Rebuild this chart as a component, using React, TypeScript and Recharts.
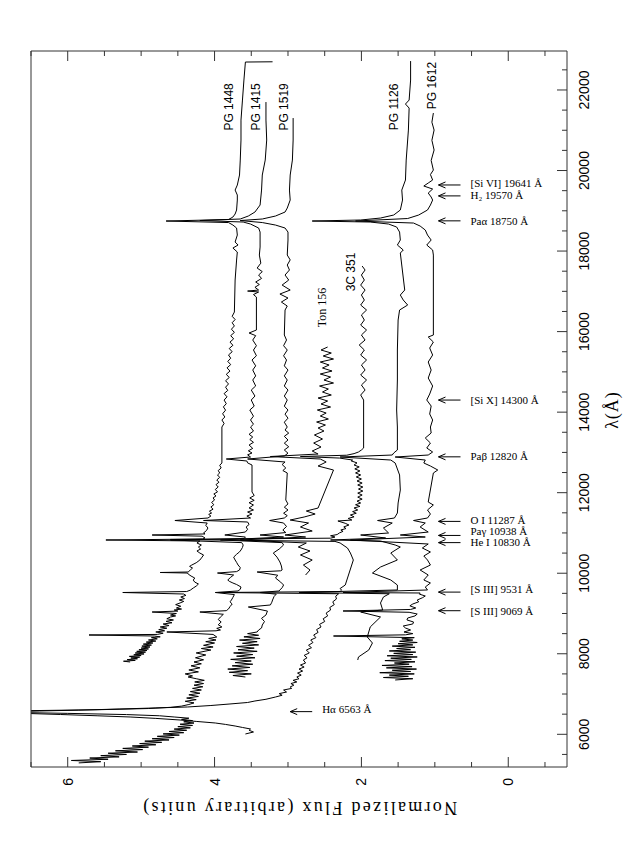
import React from 'react';
import { LineChart, Line, XAxis, YAxis, ReferenceDot } from 'recharts';

// wavelength (Angstrom) and normalized flux ranges of the frame
const waveDomain = [5188, 22968];
const fluxDomain = [-0.8, 6.5];
const waveTicks = [6000, 8000, 10000, 12000, 14000, 16000, 18000, 20000, 22000];
const waveMinor = [5500, 6000, 6500, 7000, 7500, 8000, 8500, 9000, 9500, 10000, 10500, 11000, 11500, 12000, 12500, 13000, 13500, 14000, 14500, 15000, 15500, 16000, 16500, 17000, 17500, 18000, 18500, 19000, 19500, 20000, 20500, 21000, 21500, 22000, 22500];
const fluxTicks = [0, 2, 4, 6];
const fluxMinor = [-0.5, 0, 0.5, 1, 1.5, 2, 2.5, 3, 3.5, 4, 4.5, 5, 5.5, 6, 6.5];

// [wavelength, flux]
const pg1448 = [[7796,5.15],[7815,5.24],[7835,5.08],[7855,5.19],[7875,5.05],[7895,5.14],[7915,5.02],[7935,5.16],[7955,5.00],[7975,5.10],[7995,4.96],[8019,5.08],[8040,4.94],[8060,5.06],[8080,4.92],[8100,5.03],[8120,4.90],[8140,5.00],[8168,4.88],[8190,4.99],[8215,4.86],[8240,4.97],[8267,4.84],[8290,4.93],[8315,4.80],[8342,4.90],[8370,4.78],[8400,4.86],[8420,4.74],[8441,4.82],[8466,5.71],[8480,4.78],[8510,4.70],[8541,4.80],[8570,4.68],[8600,4.76],[8635,4.65],[8665,4.74],[8700,4.62],[8739,4.70],[8770,4.58],[8805,4.66],[8838,4.56],[8870,4.65],[8913,4.60],[8940,4.53],[8962,4.60],[9000,4.52],[9037,4.85],[9060,4.50],[9086,4.55],[9110,4.45],[9136,4.52],[9180,4.46],[9220,4.53],[9261,4.47],[9300,4.42],[9335,4.48],[9370,4.41],[9410,4.46],[9450,4.39],[9484,4.42],[9521,5.25],[9545,4.38],[9580,4.33],[9633,4.29],[9680,4.25],[9732,4.22],[9780,4.27],[9830,4.29],[9881,4.27],[9930,4.32],[9980,4.36],[10005,4.37],[10018,4.74],[10030,4.36],[10080,4.33],[10129,4.30],[10170,4.34],[10204,4.31],[10260,4.25],[10328,4.20],[10400,4.17],[10453,4.15],[10500,4.20],[10552,4.24],[10600,4.19],[10651,4.22],[10700,4.18],[10751,4.24],[10800,4.20],[10825,5.48],[10850,4.16],[10875,4.13],[10920,4.17],[10949,4.85],[10975,4.13],[10999,4.15],[11060,4.11],[11123,4.09],[11190,4.12],[11247,4.10],[11309,4.54],[11371,4.09],[11420,4.05],[11460,4.08],[11495,4.04],[11540,4.07],[11590,4.02],[11644,4.05],[11700,4.01],[11760,4.04],[11818,4.00],[11870,4.02],[11920,3.98],[11967,4.01],[12020,3.96],[12080,3.99],[12141,3.95],[12200,3.98],[12260,3.94],[12315,3.97],[12380,3.93],[12440,3.96],[12489,3.93],[12550,3.95],[12613,3.91],[12680,3.93],[12737,3.90],[13631,3.90],[13720,3.87],[13805,3.90],[13880,3.86],[13960,3.89],[14050,3.85],[14130,3.88],[14210,3.84],[14300,3.87],[14380,3.83],[14460,3.87],[14540,3.82],[14620,3.85],[14700,3.81],[14780,3.85],[14860,3.80],[14940,3.84],[15020,3.79],[15100,3.83],[15180,3.78],[15260,3.82],[15340,3.78],[15420,3.81],[15500,3.76],[15580,3.80],[15660,3.75],[15740,3.79],[15820,3.74],[15900,3.78],[15980,3.73],[16060,3.77],[16140,3.73],[16220,3.76],[16300,3.72],[16380,3.76],[16486,3.73],[17281,3.72],[17777,3.70],[17976,3.69],[18075,3.75],[18150,3.68],[18224,3.72],[18398,3.69],[18572,3.70],[18646,3.75],[18708,3.81],[18746,4.66],[18783,3.81],[18845,3.75],[18920,3.72],[19019,3.70],[19267,3.69],[19391,3.69],[19515,3.72],[19639,3.69],[19888,3.66],[20260,3.65],[20757,3.64],[21253,3.64],[21750,3.62],[22247,3.60],[22694,3.58],[22700,3.21]];

const pg1415 = [[5290,5.85],[5320,5.55],[5350,5.95],[5380,5.45],[5410,5.70],[5440,5.30],[5470,5.55],[5500,5.20],[5530,5.45],[5560,5.05],[5590,5.35],[5620,4.98],[5650,5.25],[5680,4.90],[5710,5.12],[5740,4.80],[5770,5.02],[5800,4.72],[5830,4.95],[5860,4.62],[5890,4.85],[5920,4.55],[5950,4.78],[5980,4.48],[6010,4.70],[6040,4.42],[6070,4.62],[6100,4.38],[6130,4.55],[6160,4.33],[6190,4.50],[6220,4.30],[6250,4.47],[6280,4.28],[6310,4.42],[6340,4.30],[6370,4.45],[6400,4.35],[6430,4.55],[6460,4.75],[6490,5.20],[6520,6.00],[6545,6.80],[6580,6.80],[6610,5.60],[6640,4.90],[6670,4.60],[6700,4.45],[6740,4.35],[6780,4.28],[6820,4.40],[6860,4.25],[6900,4.38],[6940,4.22],[6980,4.35],[7020,4.20],[7060,4.33],[7100,4.18],[7140,4.30],[7180,4.16],[7220,4.28],[7260,4.15],[7300,4.27],[7340,4.14],[7380,4.25],[7423,4.36],[7450,4.30],[7500,4.40],[7550,4.22],[7597,4.35],[7650,4.20],[7700,4.32],[7750,4.18],[7796,4.28],[7850,4.15],[7900,4.26],[7970,4.12],[8020,4.25],[8093,4.05],[8130,4.18],[8168,4.02],[8210,4.15],[8267,4.00],[8300,4.12],[8342,3.98],[8380,4.08],[8416,3.97],[8480,4.02],[8541,4.65],[8570,3.98],[8590,3.92],[8630,3.97],[8665,3.90],[8720,3.95],[8789,3.91],[8850,3.95],[8913,3.92],[8980,3.88],[9037,4.20],[9070,3.84],[9112,3.81],[9170,3.79],[9236,3.76],[9290,3.79],[9335,3.77],[9400,3.75],[9470,3.73],[9521,3.99],[9560,3.68],[9600,3.65],[9658,3.64],[9720,3.70],[9757,3.75],[9800,3.80],[9832,3.82],[9900,3.78],[9956,3.74],[10005,3.96],[10040,3.70],[10080,3.66],[10140,3.65],[10204,3.68],[10270,3.70],[10328,3.72],[10400,3.74],[10470,3.70],[10530,3.66],[10577,3.64],[10640,3.62],[10701,3.61],[10760,3.63],[10825,4.60],[10860,3.60],[10899,3.58],[10949,3.86],[11023,3.58],[11090,3.55],[11148,3.57],[11210,3.53],[11272,3.55],[11309,4.15],[11371,3.51],[11420,3.56],[11470,3.49],[11520,3.55],[11570,3.47],[11620,3.53],[11694,3.47],[11750,3.53],[11810,3.46],[11868,3.52],[11930,3.46],[12017,3.49],[12687,3.49],[12740,3.55],[12787,3.56],[12836,3.84],[12886,3.51],[12940,3.55],[12985,3.49],[13040,3.54],[13100,3.48],[13184,3.53],[13250,3.47],[13320,3.52],[13382,3.48],[13450,3.53],[13530,3.47],[13631,3.51],[13700,3.47],[13805,3.51],[13900,3.47],[14053,3.52],[14150,3.46],[14301,3.50],[14400,3.45],[14549,3.50],[14650,3.44],[14798,3.48],[14900,3.44],[15046,3.48],[15150,3.44],[15295,3.49],[15400,3.43],[15543,3.47],[15650,3.43],[15791,3.48],[15900,3.44],[15965,3.53],[16039,3.43],[16858,3.43],[16920,3.47],[16983,3.40],[17007,3.55],[17032,3.40],[17100,3.45],[17170,3.39],[17231,3.44],[17320,3.36],[17405,3.40],[17490,3.35],[17578,3.42],[17700,3.37],[17901,3.39],[18100,3.38],[18274,3.38],[18472,3.38],[18572,3.40],[18671,3.51],[18721,3.61],[18758,4.20],[18796,3.65],[18870,3.54],[18969,3.45],[19143,3.38],[19515,3.36],[19888,3.35],[20260,3.31],[20757,3.29],[21253,3.30],[21700,3.30]];

const pg1519 = [[7423,3.58],[7460,3.75],[7500,3.50],[7540,3.80],[7580,3.55],[7620,3.82],[7660,3.52],[7700,3.76],[7740,3.48],[7780,3.72],[7820,3.50],[7860,3.78],[7900,3.45],[7940,3.70],[7980,3.48],[8020,3.74],[8060,3.42],[8100,3.68],[8140,3.46],[8180,3.70],[8220,3.40],[8260,3.62],[8300,3.42],[8340,3.66],[8380,3.38],[8420,3.60],[8460,3.40],[8500,3.55],[8541,3.42],[8590,3.40],[8640,3.36],[8714,3.35],[8800,3.32],[8880,3.36],[8962,3.30],[9060,3.28],[9161,3.54],[9211,3.24],[9280,3.22],[9335,3.21],[9420,3.19],[9480,3.16],[9521,3.38],[9560,3.12],[9584,3.11],[9640,3.08],[9707,3.06],[9780,3.10],[9881,3.17],[9950,3.14],[10030,3.42],[10060,3.10],[10080,3.08],[10180,3.09],[10279,3.11],[10400,3.15],[10502,3.20],[10600,3.12],[10701,3.06],[10760,3.08],[10825,3.92],[10899,3.06],[10949,3.38],[11010,3.03],[11073,3.07],[11160,3.02],[11247,3.06],[11309,3.25],[11371,3.05],[11430,3.01],[11490,3.06],[11570,3.00],[11640,3.05],[11720,3.00],[11818,3.03],[12489,3.01],[12550,3.07],[12613,3.03],[12700,3.08],[12762,3.04],[12836,3.55],[12911,3.05],[12980,3.00],[13060,3.05],[13140,2.99],[13230,3.05],[13308,3.00],[13400,3.05],[13480,2.99],[13556,3.04],[13631,3.01],[13750,3.05],[13850,3.00],[13950,3.04],[14053,3.00],[14150,3.05],[14301,3.01],[14400,3.05],[14549,3.00],[14650,3.05],[14798,3.01],[14900,3.05],[15046,3.00],[15150,3.05],[15295,3.02],[15400,3.06],[15543,3.01],[15650,3.06],[15791,3.02],[15915,3.05],[16536,3.04],[16635,3.01],[16734,3.09],[16834,3.00],[16933,3.11],[17032,2.97],[17156,3.08],[17280,2.99],[17405,3.04],[17530,2.98],[17653,3.01],[17780,2.97],[17901,3.01],[18274,3.00],[18472,3.00],[18572,3.04],[18646,3.17],[18708,3.35],[18758,3.65],[18796,3.35],[18870,3.17],[18969,3.04],[19068,3.01],[19267,2.97],[19515,2.98],[19888,2.97],[20260,2.94],[20757,2.93],[21303,2.93]];

const ton156 = [[9956,2.76],[10080,2.70],[10204,2.79],[10328,2.67],[10453,2.83],[10552,2.70],[10651,2.86],[10751,2.75],[10825,3.65],[10899,2.76],[10949,3.04],[11048,2.67],[11148,2.83],[11247,2.72],[11321,2.97],[11396,2.78],[11470,2.63],[11545,2.75],[11619,2.59],[12563,2.38],[12662,2.59],[12762,2.48],[12836,2.56],[12898,3.24],[12960,2.59],[13035,2.67],[13134,2.55],[13233,2.65],[13333,2.53],[13432,2.64],[13531,2.51],[13606,2.59],[13680,2.49],[13755,2.61],[13829,2.45],[13904,2.56],[13978,2.48],[14053,2.60],[14127,2.42],[14202,2.55],[14276,2.46],[14351,2.59],[14425,2.41],[14500,2.53],[14574,2.45],[14649,2.57],[14723,2.38],[14798,2.51],[14872,2.42],[14947,2.56],[15021,2.40],[15096,2.53],[15170,2.44],[15245,2.56],[15319,2.38],[15394,2.52],[15468,2.41],[15543,2.55],[15617,2.46]];

const c351 = [[6008,3.58],[6057,3.47],[6100,3.53],[6132,3.51],[6170,3.62],[6206,3.72],[6245,3.85],[6281,3.99],[6320,4.25],[6355,4.47],[6395,4.80],[6430,5.15],[6460,5.60],[6492,6.10],[6520,6.60],[6541,6.85],[6560,6.85],[6579,6.38],[6600,5.85],[6628,5.29],[6655,4.80],[6678,4.37],[6715,4.05],[6753,3.79],[6790,3.55],[6827,3.45],[6870,3.30],[6926,3.17],[6970,3.08],[7010,3.12],[7050,3.02],[7100,3.06],[7140,2.95],[7175,2.97],[7220,2.92],[7260,2.96],[7300,2.88],[7340,2.93],[7380,2.85],[7423,2.88],[7470,2.82],[7520,2.87],[7570,2.80],[7620,2.85],[7670,2.78],[7720,2.83],[7770,2.76],[7845,2.79],[7900,2.74],[7960,2.78],[8020,2.71],[8093,2.75],[8150,2.68],[8210,2.72],[8280,2.66],[8342,2.69],[8400,2.62],[8466,2.65],[8530,2.59],[8600,2.61],[8665,2.55],[8730,2.57],[8800,2.50],[8870,2.52],[8940,2.46],[9010,2.48],[9086,2.42],[9150,2.43],[9220,2.37],[9290,2.39],[9360,2.34],[9430,2.35],[9490,2.31],[9521,3.95],[9545,2.29],[9580,2.27],[9620,2.29],[9707,2.22],[10328,2.11],[10502,2.15],[10626,2.19],[10751,2.29],[10790,2.36],[10838,4.60],[10870,2.42],[10899,2.36],[10930,2.42],[10960,2.33],[11000,2.30],[11040,2.25],[11073,2.28],[11110,2.21],[11150,2.24],[11197,2.17],[11240,2.22],[11297,2.32],[11321,2.13],[11360,2.18],[11400,2.10],[11446,2.15],[11490,2.07],[11530,2.12],[11570,2.05],[11620,2.10],[11660,2.02],[11700,2.08],[11744,2.01],[11790,2.06],[11840,1.99],[11890,2.05],[11942,1.99],[11990,2.05],[12040,1.98],[12090,2.04],[12141,1.98],[12190,2.05],[12240,1.99],[12290,2.06],[12340,2.00],[12390,2.07],[12440,2.01],[12490,2.08],[12540,2.02],[12590,2.09],[12640,2.03],[12687,2.10],[12740,2.06],[12790,2.14],[12811,2.12],[12860,2.30],[12898,2.83],[12930,2.20],[12970,2.10],[13010,2.04],[13060,2.00],[13109,1.97],[14301,1.97],[14425,2.01],[14549,1.95],[14673,2.00],[14798,1.93],[14922,2.01],[15046,1.95],[15170,2.00],[15295,1.93],[15418,2.01],[15543,1.96],[15667,2.03],[15791,1.95],[15915,2.00],[16039,1.93],[16163,2.01],[16288,1.96],[16412,2.00],[16536,1.93],[16660,2.01],[16784,1.96],[16908,2.00],[17032,1.95],[17156,2.01],[17281,1.96],[17405,2.00],[17529,1.95],[17628,1.99]];

const pg1126 = [[7845,2.05],[7920,2.04],[8093,1.90],[8267,1.85],[8416,1.92],[8665,1.88],[8913,1.74],[9037,2.01],[9086,1.71],[9261,1.74],[9410,1.70],[9490,1.62],[9521,2.85],[9584,1.51],[9707,1.51],[9832,1.60],[10005,1.85],[10154,1.74],[10328,1.51],[10502,1.60],[10651,1.47],[10701,1.54],[10800,1.74],[10825,2.42],[10875,1.67],[10949,2.01],[10999,1.63],[11123,1.70],[11247,1.58],[11309,1.78],[11371,1.55],[11495,1.51],[11744,1.50],[12066,1.47],[12439,1.48],[12737,1.54],[12811,1.60],[12886,2.29],[12935,1.58],[12985,1.56],[13060,1.51],[13631,1.51],[14053,1.52],[14798,1.51],[15543,1.51],[16288,1.50],[16536,1.48],[16660,1.37],[16784,1.43],[16908,1.47],[17032,1.41],[17951,1.47],[18026,1.43],[18150,1.51],[18274,1.47],[18472,1.48],[18597,1.52],[18671,1.63],[18721,1.88],[18746,2.67],[18771,2.01],[18820,1.74],[18895,1.56],[19019,1.47],[19267,1.44],[19515,1.45],[19764,1.40],[20260,1.39],[21005,1.36],[21551,1.35],[21651,1.40],[21750,1.35],[22247,1.33],[22718,1.33]];

const pg1612 = [[7349,1.54],[7380,1.30],[7410,1.70],[7440,1.36],[7470,1.62],[7500,1.28],[7530,1.75],[7560,1.33],[7590,1.58],[7620,1.25],[7650,1.66],[7680,1.31],[7710,1.72],[7740,1.35],[7770,1.55],[7800,1.27],[7830,1.68],[7860,1.32],[7890,1.60],[7920,1.24],[7950,1.65],[7980,1.30],[8010,1.56],[8040,1.26],[8070,1.62],[8100,1.33],[8130,1.52],[8160,1.27],[8190,1.58],[8220,1.30],[8250,1.50],[8280,1.24],[8310,1.48],[8340,1.30],[8370,1.45],[8400,1.28],[8441,2.38],[8470,1.40],[8500,1.30],[8540,1.42],[8590,1.33],[8640,1.40],[8689,1.43],[8740,1.30],[8789,1.29],[8840,1.38],[8888,1.37],[8940,1.27],[8987,1.24],[9030,1.35],[9062,2.25],[9100,1.33],[9136,1.26],[9190,1.34],[9236,1.30],[9290,1.22],[9335,1.24],[9390,1.17],[9435,1.13],[9480,1.21],[9509,1.20],[9521,2.25],[9584,1.10],[9658,1.13],[9757,1.06],[9832,1.15],[9956,1.09],[10080,1.20],[10204,1.06],[10328,1.10],[10428,1.15],[10527,1.06],[10626,1.17],[10726,1.09],[10825,2.15],[10899,1.13],[10949,1.47],[11023,1.09],[11148,1.20],[11247,1.13],[11309,1.29],[11371,1.10],[11470,1.06],[11570,1.10],[11694,1.02],[11768,1.09],[12489,1.02],[12563,0.96],[12662,1.06],[12737,1.15],[12811,1.13],[12886,1.54],[12935,1.09],[13010,1.03],[13109,1.11],[13233,1.06],[13358,1.13],[13482,1.05],[13631,1.06],[13805,1.03],[13954,1.07],[14152,1.05],[14301,1.11],[14450,1.07],[14649,1.03],[14847,1.09],[15046,1.05],[15245,1.09],[15418,1.03],[15592,1.07],[15741,1.02],[15866,1.09],[15915,1.02],[17901,1.02],[18026,1.03],[18150,1.11],[18274,1.05],[18398,1.10],[18522,1.13],[18621,1.20],[18696,1.29],[18746,2.08],[18808,1.37],[18895,1.22],[19019,1.10],[19143,1.06],[19267,1.03],[19342,1.05],[19441,1.09],[19540,1.03],[19615,1.15],[19689,1.09],[19764,1.03],[19900,1.06],[20012,1.02],[20250,1.05],[20509,1.01],[20750,1.04],[21005,1.01],[21200,1.04],[21427,1.02]];

const spectra = [pg1448, pg1415, pg1519, ton156, c351, pg1126, pg1612];

// object names and where they are written
const objectNames = ['PG 1448', 'PG 1415', 'PG 1519', 'Ton 156', '3C 351', 'PG 1126', 'PG 1612'];
const nameWave = [21580, 21580, 21580, 16600, 17480, 21580, 22110];
const nameFlux = [3.8, 3.44, 3.05, 2.53, 2.14, 1.55, 1.04];

// emission line markers (label shift in px keeps close labels apart)
const lineLabels = ['[Si VI] 19641 Å', 'H₂ 19570 Å', 'Paα 18750 Å', '[Si X] 14300 Å', 'Paβ 12820 Å', 'O I 11287 Å', 'Paγ 10938 Å', 'He I 10830 Å', '[S III] 9531 Å', '[S III] 9069 Å', 'Hα 6563 Å'];
const lineWave = [19641, 19370, 18750, 14300, 12890, 11287, 10938, 10760, 9531, 9069, 6563];
const arrowFlux = [0.95, 0.95, 0.95, 0.95, 0.95, 0.95, 0.95, 0.95, 0.95, 0.95, 2.97];
const labelShift = [1.7, 1, 0, 0, 1, 1.7, 4, 0.6, 3.3, 0, 2.7];

const W = 854;
const H = 639;
const sans = '"Liberation Sans", Arial, sans-serif';
const serif = '"Liberation Serif", "Times New Roman", serif';
const axisColor = '#333';

const BottomTick = (p: any) => {
  const { x, y, payload } = p;
  const major = waveTicks.includes(payload.value);
  return (
    <g>
      <line x1={x} y1={y} x2={x} y2={y - (major ? 10 : 5)} stroke={axisColor} />
      {major && (
        <text x={x} y={y + 22} textAnchor="middle" fontSize={14} fontFamily={sans} fill="#000">{payload.value}</text>
      )}
    </g>
  );
};
const TopTick = (p: any) => {
  const major = waveTicks.includes(p.payload.value);
  return <line x1={p.x} y1={p.y} x2={p.x} y2={p.y + (major ? 10 : 5)} stroke={axisColor} />;
};
const LeftTick = (p: any) => {
  const { x, y, payload } = p;
  const major = fluxTicks.includes(payload.value);
  return (
    <g>
      <line x1={x} y1={y} x2={x + (major ? 10 : 5)} y2={y} stroke={axisColor} />
      {major && (
        <text x={x - 11} y={y} textAnchor="end" dominantBaseline="central" fontSize={14} fontFamily={sans} fill="#000">{payload.value}</text>
      )}
    </g>
  );
};
const RightTick = (p: any) => {
  const major = fluxTicks.includes(p.payload.value);
  return <line x1={p.x} y1={p.y} x2={p.x - (major ? 10 : 5)} y2={p.y} stroke={axisColor} />;
};

const arrowShape = (text: string, shift: number) => (p: any) => {
  const { cx, cy } = p;
  const tx = cx + shift;
  const ty = cy + 32;
  return (
    <g>
      <line x1={cx} y1={cy} x2={cx} y2={cy + 22} stroke="#000" strokeWidth={1} />
      <polyline points={`${cx - 3},${cy + 7} ${cx},${cy} ${cx + 3},${cy + 7}`} fill="none" stroke="#000" strokeWidth={1} />
      <text x={tx} y={ty} transform={`rotate(90 ${tx} ${ty})`} dominantBaseline="central" fontSize={11} fontFamily={serif} fill="#000">
        {text}
      </text>
    </g>
  );
};

const nameShape = (text: string) => (p: any) => (
  <text x={p.cx} y={p.cy} textAnchor="middle" dominantBaseline="central" fontSize={12}
    fontFamily={text.startsWith('Ton') ? serif : sans} fill="#000">
    {text}
  </text>
);

export default function App() {
  return (
    <div style={{ position: 'absolute', left: 0, top: 0, width: 639, height: 854, overflow: 'hidden', background: '#fff' }}>
      <div style={{ position: 'absolute', left: 0, top: 0, width: W, height: H, transformOrigin: '0 0', transform: `translate(0px, ${W}px) rotate(-90deg)` }}>
        <LineChart width={W} height={H} margin={{ top: 30, right: 50, bottom: 71, left: 86 }}>
          <XAxis xAxisId="b" type="number" dataKey="w" domain={waveDomain} allowDataOverflow ticks={waveMinor} interval={0}
            height={1} tickSize={0} tickMargin={0} tickLine={false} tick={BottomTick} stroke={axisColor} />
          <XAxis xAxisId="t" orientation="top" type="number" domain={waveDomain} allowDataOverflow ticks={waveMinor} interval={0}
            height={1} tickSize={0} tickMargin={0} tickLine={false} tick={TopTick} stroke={axisColor} />
          <YAxis yAxisId="l" type="number" domain={fluxDomain} allowDataOverflow ticks={fluxMinor} interval={0}
            width={1} tickSize={0} tickMargin={0} tickLine={false} tick={LeftTick} stroke={axisColor} />
          <YAxis yAxisId="r" orientation="right" type="number" domain={fluxDomain} allowDataOverflow ticks={fluxMinor} interval={0}
            width={1} tickSize={0} tickMargin={0} tickLine={false} tick={RightTick} stroke={axisColor} />

          {spectra.map((s, i) => (
            <Line key={objectNames[i]} xAxisId="b" yAxisId="l" data={s.map(([w, f]) => ({ w, f }))}
              dataKey="f" type="linear" stroke="#000" strokeWidth={1} dot={false} isAnimationActive={false} />
          ))}

          {objectNames.map((n, i) => (
            <ReferenceDot key={n} xAxisId="b" yAxisId="l" x={nameWave[i]} y={nameFlux[i]} r={1} shape={nameShape(n)} />
          ))}
          {lineLabels.map((t, i) => (
            <ReferenceDot key={t} xAxisId="b" yAxisId="l" x={lineWave[i]} y={arrowFlux[i]} r={1} shape={arrowShape(t, labelShift[i])} />
          ))}
        </LineChart>
        <svg width={W} height={H} style={{ position: 'absolute', left: 0, top: 0, pointerEvents: 'none' }}>
          <text x={444} y={612} textAnchor="middle" dominantBaseline="central" fontFamily={serif} fontSize={18} letterSpacing={1} fill="#000">
            λ(Å)
          </text>
          <text x={46} y={299} transform="rotate(-90 46 299)" textAnchor="middle" dominantBaseline="central"
            fontFamily={serif} fontSize={18} letterSpacing={2.3} fill="#000">
            Normalized Flux (arbitrary units)
          </text>
        </svg>
      </div>
    </div>
  );
}
